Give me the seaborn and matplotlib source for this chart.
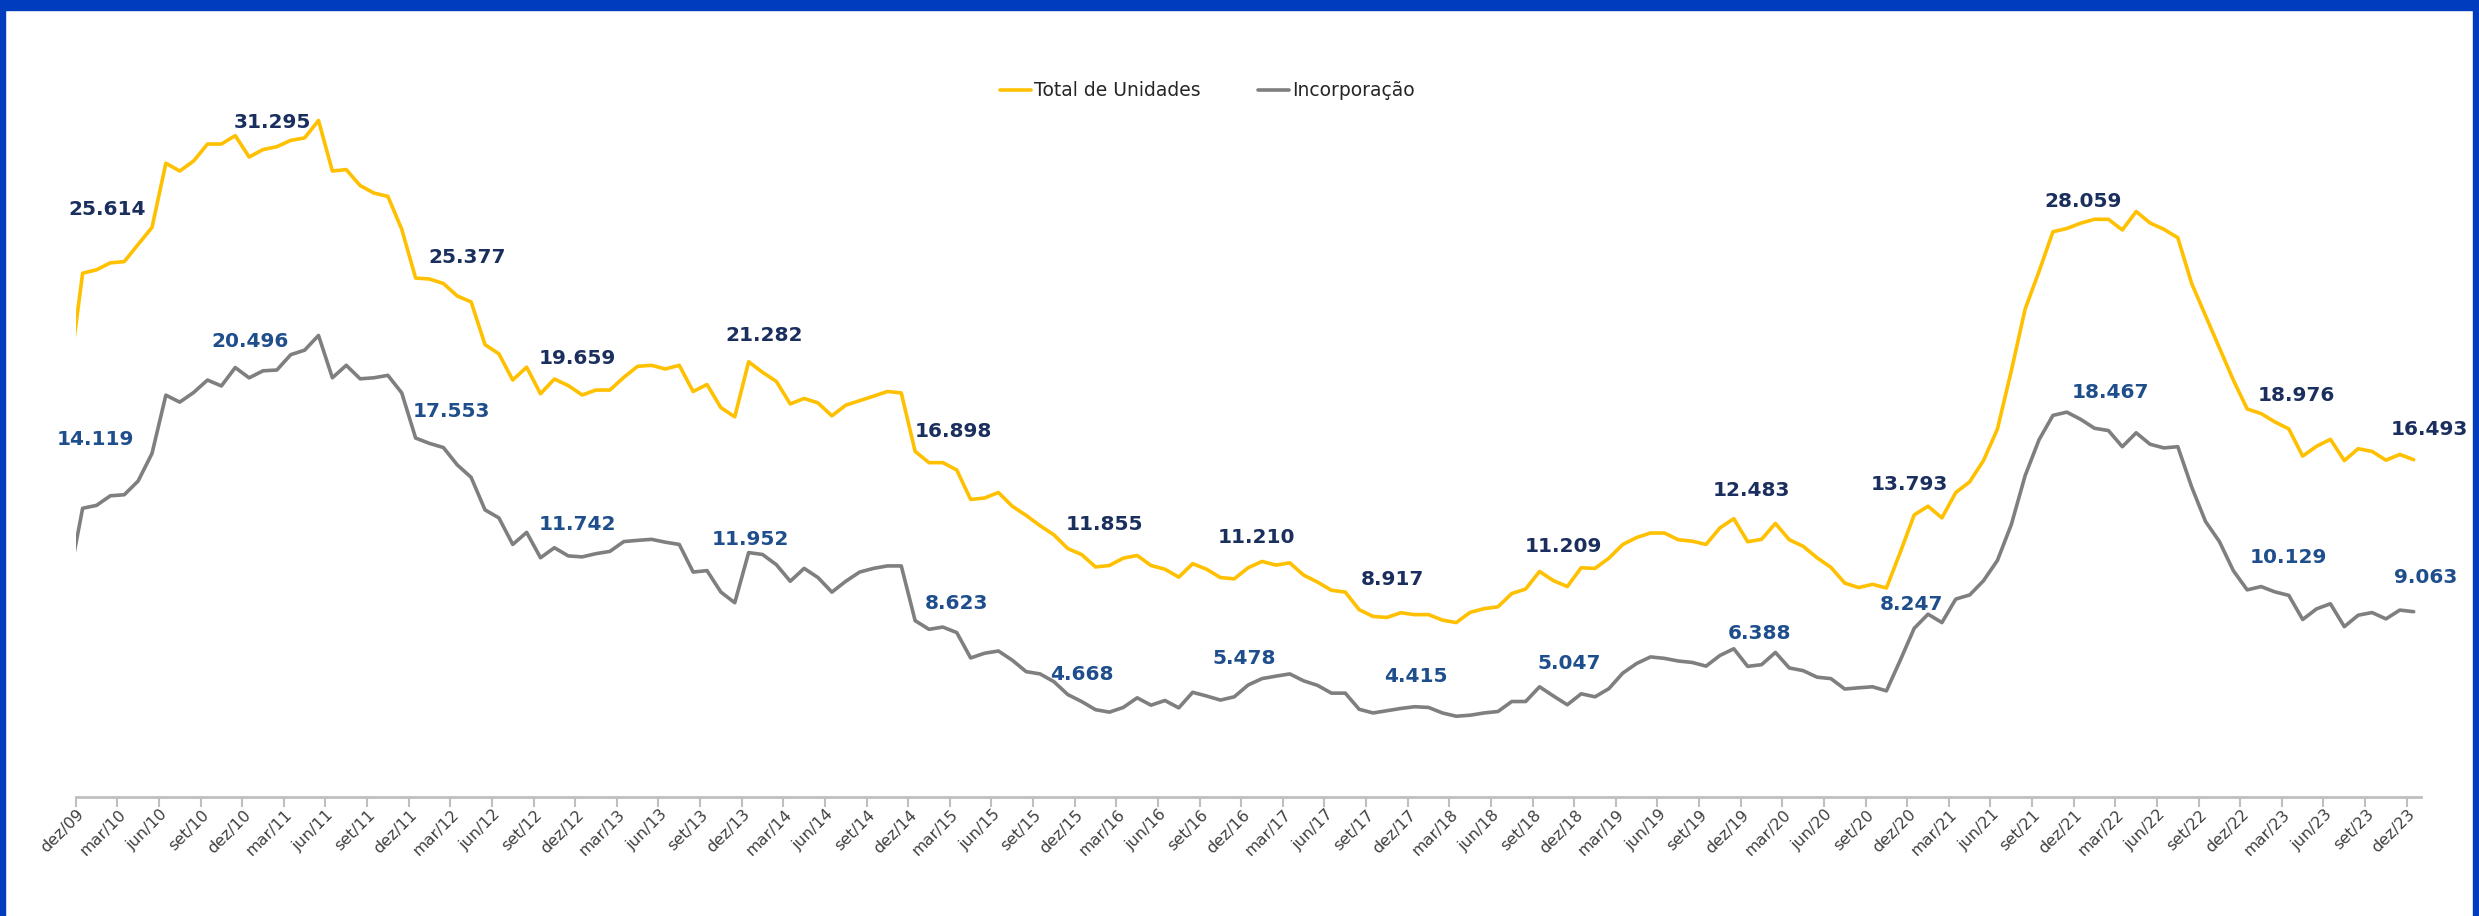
import matplotlib
matplotlib.use("Agg")
import matplotlib.pyplot as plt
import matplotlib.transforms as mtransforms
from matplotlib.lines import Line2D
from matplotlib.patches import Rectangle
import numpy as np
import pandas as pd
import seaborn as sns

sns.set_theme(style="white")
plt.rcParams["font.family"] = ["DejaVu Sans"]

MESES = ["jan", "fev", "mar", "abr", "mai", "jun", "jul", "ago", "set", "out", "nov", "dez"]
# nov/09 .. dez/23 (nov/09 fica cortado na borda esquerda, como no original)
PERIODOS = [f"{MESES[(10 + k) % 12]}/{9 + (10 + k) // 12:02d}" for k in range(170)]

# milhares de unidades; primeira linha = nov/09, dez/09, depois jan..dez de cada ano
TOTAL = [
    20.40, 25.614,
    25.78, 26.12, 26.18, 27.02, 27.85, 30.99, 30.61, 31.10, 31.93, 31.93, 32.34, 31.295,
    31.66, 31.80, 32.11, 32.23, 33.08, 30.61, 30.68, 29.90, 29.53, 29.37, 27.76, 25.377,
    25.33, 25.11, 24.50, 24.21, 22.12, 21.67, 20.39, 21.02, 19.72, 20.44, 20.12, 19.659,
    19.90, 19.90, 20.52, 21.06, 21.11, 20.93, 21.11, 19.83, 20.17, 19.04, 18.59, 21.282,
    20.77, 20.32, 19.22, 19.49, 19.27, 18.64, 19.16, 19.38, 19.60, 19.83, 19.76, 16.898,
    16.35, 16.35, 15.99, 14.55, 14.62, 14.89, 14.22, 13.77, 13.27, 12.82, 12.15, 11.855,
    11.25, 11.32, 11.68, 11.81, 11.32, 11.14, 10.75, 11.41, 11.14, 10.73, 10.67, 11.210,
    11.52, 11.34, 11.45, 10.85, 10.51, 10.11, 10.02, 9.16, 8.83, 8.78, 9.01, 8.917,
    8.92, 8.65, 8.53, 9.03, 9.21, 9.30, 9.95, 10.17, 11.03, 10.58, 10.29, 11.209,
    11.18, 11.68, 12.35, 12.69, 12.91, 12.91, 12.58, 12.51, 12.35, 13.16, 13.61, 12.483,
    12.60, 13.38, 12.58, 12.26, 11.70, 11.23, 10.46, 10.24, 10.40, 10.22, 11.97, 13.793,
    14.22, 13.65, 14.89, 15.41, 16.46, 17.99, 20.84, 23.87, 25.70, 27.64, 27.80, 28.059,
    28.25, 28.25, 27.73, 28.63, 28.07, 27.76, 27.35, 25.11, 23.53, 21.96, 20.39, 18.976,
    18.75, 18.34, 18.00, 16.67, 17.15, 17.49, 16.45, 17.03, 16.90, 16.47, 16.75, 16.493,
]
INCORPORACAO = [
    10.55, 14.119,
    14.26, 14.73, 14.78, 15.45, 16.80, 19.65, 19.31, 19.78, 20.39, 20.10, 21.00, 20.496,
    20.84, 20.88, 21.63, 21.85, 22.57, 20.50, 21.11, 20.45, 20.50, 20.62, 19.76, 17.553,
    17.29, 17.09, 16.24, 15.63, 14.04, 13.65, 12.35, 12.94, 11.70, 12.19, 11.79, 11.742,
    11.90, 12.01, 12.49, 12.55, 12.60, 12.46, 12.35, 11.00, 11.07, 10.02, 9.50, 11.952,
    11.86, 11.36, 10.55, 11.18, 10.73, 10.02, 10.55, 11.00, 11.18, 11.30, 11.30, 8.623,
    8.20, 8.31, 8.04, 6.80, 7.03, 7.14, 6.69, 6.13, 6.02, 5.64, 5.01, 4.668,
    4.27, 4.15, 4.38, 4.85, 4.49, 4.72, 4.36, 5.12, 4.94, 4.74, 4.90, 5.478,
    5.79, 5.91, 6.02, 5.68, 5.46, 5.08, 5.08, 4.29, 4.11, 4.22, 4.33, 4.415,
    4.38, 4.11, 3.95, 4.00, 4.11, 4.18, 4.67, 4.67, 5.39, 4.94, 4.51, 5.047,
    4.90, 5.30, 6.06, 6.53, 6.85, 6.78, 6.65, 6.58, 6.40, 6.92, 7.25, 6.388,
    6.47, 7.07, 6.31, 6.18, 5.86, 5.79, 5.28, 5.34, 5.39, 5.19, 6.69, 8.247,
    8.94, 8.53, 9.68, 9.88, 10.58, 11.57, 13.32, 15.72, 17.47, 18.66, 18.82, 18.467,
    18.03, 17.92, 17.13, 17.81, 17.25, 17.07, 17.13, 15.16, 13.47, 12.49, 11.07, 10.129,
    10.29, 10.03, 9.86, 8.68, 9.20, 9.45, 8.33, 8.89, 9.02, 8.71, 9.14, 9.063,
]

SERIES = ["Total de Unidades", "Incorporação"]
PALETTE = {"Total de Unidades": "#FFC000", "Incorporação": "#7F7F7F"}
LABEL_COLORS = {"Total de Unidades": "#1B2F5E", "Incorporação": "#1F4E8C"}

# deslocamento (px) dos rótulos de dezembro, um por ano, como no gráfico original
OFFSETS_TOTAL = [(25, 64), (23, 35), (51, 21), (-5, 36), (15, 26), (38, 20), (23, 30), (8, 30),
                 (-22, 35), (-18, 21), (4, 51), (-5, 30), (2, 22), (49, 13), (16, 30)]
OFFSETS_INC = [(13, 69), (1, 36), (36, 27), (-5, 32), (2, 13), (41, 17), (0, 27), (-4, 26),
               (1, 30), (-12, 30), (12, 33), (-3, 24), (30, 27), (41, 32), (12, 34)]

pos = np.arange(len(PERIODOS)) - 0.5   # centro de cada mês; ticks nas fronteiras
df = pd.DataFrame({
    "pos": np.concatenate([pos, pos]),
    "periodo": PERIODOS * 2,
    "serie": [SERIES[0]] * len(TOTAL) + [SERIES[1]] * len(INCORPORACAO),
    "valor": TOTAL + INCORPORACAO,
})

fig = plt.figure(figsize=(24.79, 9.16), dpi=100)
ax = fig.add_axes([0.03053, 0.1299, 0.94592, 0.7814])
sns.lineplot(data=df, x="pos", y="valor", hue="serie", palette=PALETTE,
             hue_order=SERIES, lw=2.6, legend=False, ax=ax)
ax.set_xlim(0, 169)
ax.set_ylim(0, 35)

# rótulos de dezembro
dez_idx = [k for k, p in enumerate(PERIODOS) if p.startswith("dez")]
for serie, vals, offs in [(SERIES[0], TOTAL, OFFSETS_TOTAL), (SERIES[1], INCORPORACAO, OFFSETS_INC)]:
    for k, off in zip(dez_idx, offs):
        ax.annotate(f"{vals[k]:.3f}", (pos[k], vals[k]), xytext=off, textcoords="offset pixels",
                    ha="center", va="center", fontsize=14.5, fontweight="bold",
                    color=LABEL_COLORS[serie])

ticks = np.arange(0, 169, 3)
ax.set_xticks(ticks)
ax.set_xticklabels([PERIODOS[1 + t] for t in ticks], rotation=45, ha="right",
                   va="center", rotation_mode="anchor")
ax.tick_params(axis="x", length=7, width=1.5, color="#BFBFBF", labelsize=11.5,
               labelcolor="#404040", pad=4, bottom=True)
shift = mtransforms.ScaledTranslation(6 / 100, 0, fig.dpi_scale_trans)
for lbl in ax.get_xticklabels():
    lbl.set_transform(lbl.get_transform() + shift)
ax.set_yticks([])
ax.set_xlabel("")
ax.set_ylabel("")
for s in ["left", "top", "right"]:
    ax.spines[s].set_visible(False)
ax.spines["bottom"].set_color("#BFBFBF")
ax.spines["bottom"].set_linewidth(2)

handles = [Line2D([], [], color=PALETTE[s], lw=2.6) for s in SERIES]
ax.legend(handles, SERIES, loc="center", bbox_to_anchor=(0.487, 0.9007),
          bbox_transform=fig.transFigure, ncol=2, frameon=False, fontsize=13.5,
          handlelength=1.65, handletextpad=0.16, columnspacing=3.1)

# moldura azul
azul = "#003CBE"
fig.patches.append(Rectangle((0, 1 - 10 / 916), 1, 10 / 916, transform=fig.transFigure,
                             color=azul, zorder=10))
fig.patches.append(Rectangle((0, 0), 5 / 2479, 1, transform=fig.transFigure,
                             color=azul, zorder=10))
fig.patches.append(Rectangle((1 - 6 / 2479, 0), 6 / 2479, 1, transform=fig.transFigure,
                             color=azul, zorder=10))

fig.savefig("out.png", dpi=100)
